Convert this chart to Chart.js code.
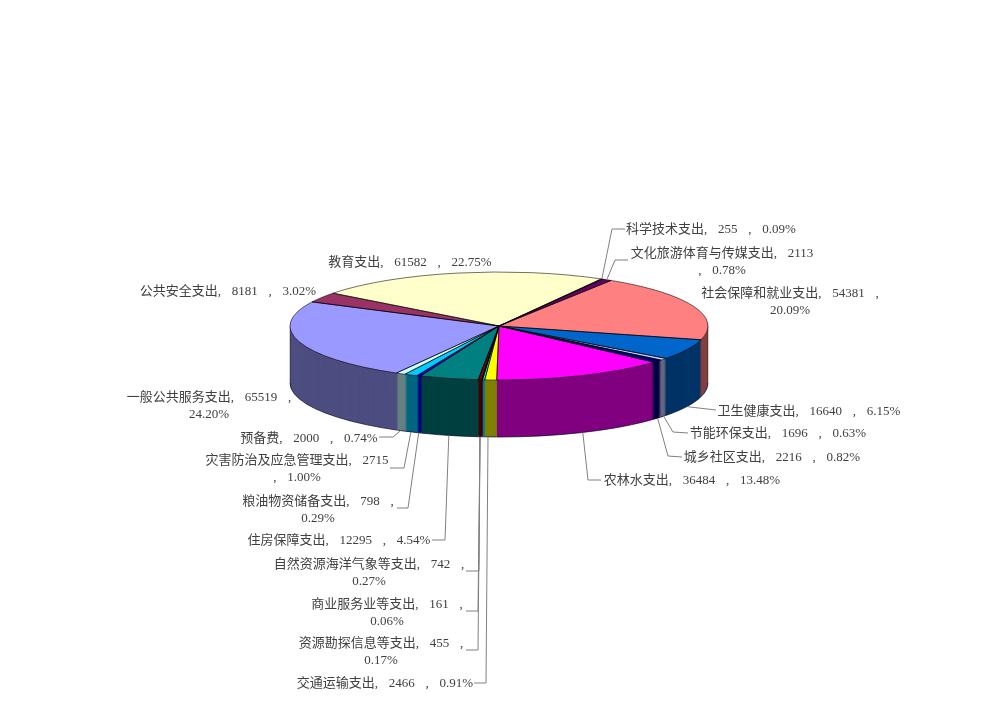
<!DOCTYPE html>
<html>
<head>
<meta charset="utf-8">
<script src="https://cdn.jsdelivr.net/npm/chart.js@4"></script>
<style>
html,body{margin:0;padding:0;background:#fff}
#wrap{position:absolute;left:0;top:0;width:1000px;height:710px}
canvas{filter:blur(0.4px)}
</style>
</head>
<body>
<div id="wrap"><canvas id="c" width="1000" height="710"></canvas></div>
<script>
const categories = ["一般公共服务支出","公共安全支出","教育支出","科学技术支出","文化旅游体育与传媒支出","社会保障和就业支出","卫生健康支出","节能环保支出","城乡社区支出","农林水支出","交通运输支出","资源勘探信息等支出","商业服务业等支出","自然资源海洋气象等支出","住房保障支出","粮油物资储备支出","灾害防治及应急管理支出","预备费"];
const values = [65519,8181,61582,255,2113,54381,16640,1696,2216,36484,2466,455,161,742,12295,798,2715,2000];
const percents = ["24.20","3.02","22.75","0.09","0.78","20.09","6.15","0.63","0.82","13.48","0.91","0.17","0.06","0.27","4.54","0.29","1.00","0.74"];
const topColors = ["#9999FF","#993366","#FFFFCC","#CCFFFF","#660066","#FF8080","#0066CC","#CCCCFF","#000080","#FF00FF","#FFFF00","#00FFFF","#800080","#800000","#008080","#0000FF","#00CCFF","#CCFFFF"];
const wallColors = ["#4D4D80","#4D1A33","#808066","#668080","#330033","#804040","#003366","#666680","#000040","#800080","#808000","#008080","#400040","#400000","#004040","#000080","#006680","#668080"];

// label layout: [centre x, first line centre y, wrap mode]
// wrap: 0 one line, 1 break after the second comma, 2 break before the comma after the value
const labelLayout = [
 [209,398,1],[228,292,0],[410,263,0],[711,230,0],[722,254,2],[790,294,1],[809,412,0],[778,434,0],[772,458,0],[692,481,0],
 [385,684,0],[381,644,1],[387,605,1],[369,565,1],[339,541,0],[318,502,1],[297,461,2],[309,439,0]
];
// leader polylines from the label to the elbow; the arc supplies the final point unless the path already ends on the pie edge
const leaders = [
 null,null,null,[[625,229],[612,229]],[[628,260],[615,260]],null,[[716,410],[690,407]],[[688,433],[673,432]],[[682,457],[668,456]],[[601,480],[588,480]],
 [[474,683],[486,683],[488,437]],[[466,650],[478,650],[480,437]],[[466,611],[478,611],[480,437]],[[466,571],[479,571],[480,437]],[[432,540],[445,540]],[[397,508],[408,508]],[[390,468],[404,468]],[[379,437],[393,437]]
];

const RY = 54, DEPTH = 57;

function labelLines(i){
  const a = categories[i] + ", " + values[i], p = percents[i] + "%", mode = labelLayout[i][2];
  if (mode === 1) return [a + " ,", p];
  if (mode === 2) return [a, ", " + p];
  return [a + " , " + p];
}

const pie3d = {
  id:'pie3d',
  beforeDatasetDraw(chart, args){
    const ctx = chart.ctx, arcs = args.meta.data;
    const a0 = arcs[0], R = a0.outerRadius, cx = a0.x, cy = a0.y, k = RY / R;
    const paint = (arc, color, dy) => {
      const saved = arc.options;
      arc.options = Object.assign({}, saved, {backgroundColor:color, borderWidth:0});
      ctx.save();
      ctx.translate(0, cy + dy);
      ctx.scale(1, k);
      ctx.translate(0, -cy);
      arc.draw(ctx);
      ctx.restore();
      arc.options = saved;
    };
    // side wall: the same arcs repeated downward in the darker colour
    for (let dy = DEPTH; dy >= 1; dy--) arcs.forEach((arc,i) => paint(arc, wallColors[i], dy));
    // wall edges
    ctx.save();
    ctx.lineWidth = 0.8; ctx.strokeStyle = 'rgba(0,0,40,0.85)';
    ctx.beginPath(); ctx.ellipse(cx, cy + DEPTH, R, RY, 0, 0, Math.PI); ctx.stroke();
    ctx.beginPath();
    ctx.moveTo(cx - R, cy); ctx.lineTo(cx - R, cy + DEPTH);
    ctx.moveTo(cx + R, cy); ctx.lineTo(cx + R, cy + DEPTH);
    ctx.strokeStyle = 'rgba(0,0,0,0.45)';
    ctx.stroke();
    ctx.restore();
    // top face
    arcs.forEach((arc,i) => paint(arc, topColors[i], 0));
    ctx.save();
    ctx.lineWidth = 0.8;
    ctx.strokeStyle = 'rgba(0,0,0,0.7)';
    arcs.forEach(arc => {
      ctx.beginPath();
      ctx.moveTo(cx, cy);
      ctx.ellipse(cx, cy, R, RY, 0, arc.startAngle, arc.endAngle);
      ctx.closePath();
      ctx.stroke();
    });
    ctx.restore();
    return false;
  },
  afterDatasetsDraw(chart){
    const ctx = chart.ctx, arcs = chart.getDatasetMeta(0).data;
    const R = arcs[0].outerRadius, cx = arcs[0].x, cy = arcs[0].y;
    ctx.save();
    ctx.strokeStyle = '#808080'; ctx.lineWidth = 1;
    arcs.forEach((arc,i) => {
      const lead = leaders[i];
      if (!lead) return;
      const mid = (arc.startAngle + arc.endAngle) / 2;
      const s = Math.sin(mid);
      const ax = cx + R * Math.cos(mid), ay = cy + RY * s + (s > 0 ? DEPTH : 0);
      ctx.beginPath();
      ctx.moveTo(lead[0][0], lead[0][1]);
      for (let j = 1; j < lead.length; j++) ctx.lineTo(lead[j][0], lead[j][1]);
      if (lead.length < 3) ctx.lineTo(ax, ay);
      ctx.stroke();
    });
    ctx.font = '13px "Liberation Serif","Noto Sans CJK SC"';
    ctx.wordSpacing = '7.5px';
    ctx.fillStyle = '#404040';
    ctx.textAlign = 'center'; ctx.textBaseline = 'middle';
    categories.forEach((_,i) => {
      const [x,y] = labelLayout[i];
      labelLines(i).forEach((t,j) => ctx.fillText(t, x, y + j * 17));
    });
    ctx.restore();
  }
};

new Chart(document.getElementById('c'), {
  type:'pie',
  data:{labels:categories, datasets:[{data:values, backgroundColor:topColors, borderWidth:0, hoverOffset:0, offset:0}]},
  options:{
    responsive:false, animation:false, rotation:209.4, circumference:360,
    layout:{padding:{left:290,right:292,top:117,bottom:175}},
    events:[],
    plugins:{legend:{display:false},title:{display:false},tooltip:{enabled:false}}
  },
  plugins:[pie3d]
});
</script>
</body>
</html>
